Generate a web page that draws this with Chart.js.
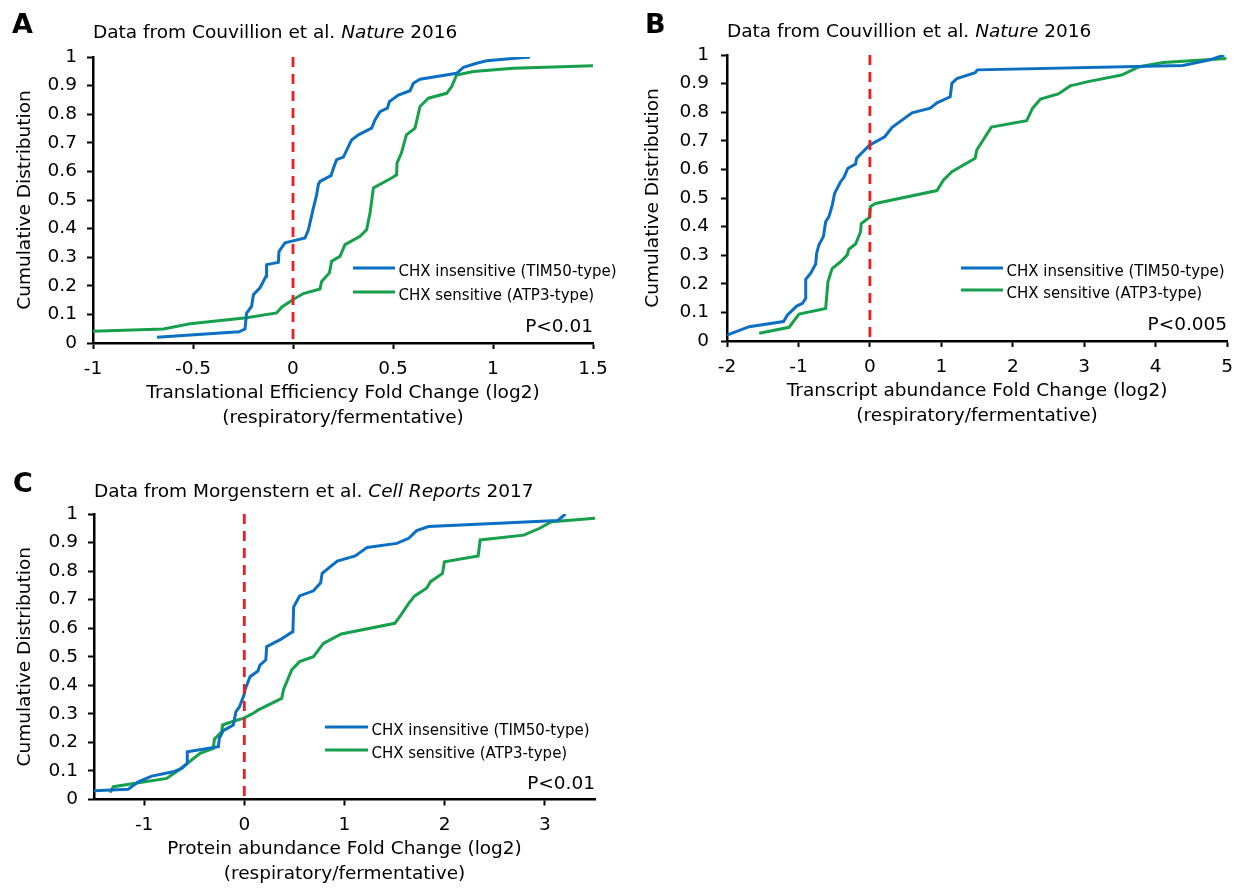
<!DOCTYPE html>
<html>
<head>
<meta charset="utf-8">
<title>CHX sensitivity cumulative distributions</title>
<script src="https://cdn.jsdelivr.net/npm/chart.js@4.4.1/dist/chart.umd.min.js"></script>
<style>
  body { margin: 0; background: #fff; }
  #wrap { position: relative; width: 1242px; height: 888px; overflow: hidden; }
  canvas { position: absolute; }
</style>
</head>
<body>
<div id="wrap">
  <canvas id="chartA" width="621" height="440" style="left:0px;top:0px"></canvas>
  <canvas id="chartB" width="621" height="440" style="left:621px;top:0px"></canvas>
  <canvas id="chartC" width="621" height="448" style="left:0px;top:440px"></canvas>
</div>
<script>
// ---- data ----
const yTicks = [0, 0.1, 0.2, 0.3, 0.4, 0.5, 0.6, 0.7, 0.8, 0.9, 1];
const yTickLabels = ['0', '0.1', '0.2', '0.3', '0.4', '0.5', '0.6', '0.7', '0.8', '0.9', '1'];

const xTicksA = [-1, -0.5, 0, 0.5, 1, 1.5];
const xLabelsA = ['-1', '-0.5', '0', '0.5', '1', '1.5'];
const xTicksB = [-2, -1, 0, 1, 2, 3, 4, 5];
const xLabelsB = ['-2', '-1', '0', '1', '2', '3', '4', '5'];
const xTicksC = [-1, 0, 1, 2, 3];
const xLabelsC = ['-1', '0', '1', '2', '3'];

const seriesNames = ['CHX insensitive (TIM50-type)', 'CHX sensitive (ATP3-type)'];

// A: translational efficiency (x, cumulative fraction)
const blueA = [[-0.68,0.02],[-0.27,0.039],[-0.24,0.049],[-0.232,0.105],[-0.207,0.128],[-0.198,0.169],
  [-0.165,0.193],[-0.135,0.233],[-0.132,0.274],[-0.073,0.282],[-0.07,0.32],[-0.04,0.35],[0.005,0.358],
  [0.06,0.367],[0.077,0.396],[0.098,0.46],[0.118,0.518],[0.127,0.555],[0.135,0.565],[0.19,0.585],
  [0.202,0.611],[0.218,0.641],[0.252,0.65],[0.293,0.71],[0.327,0.728],[0.393,0.751],[0.41,0.78],
  [0.435,0.809],[0.472,0.821],[0.482,0.844],[0.527,0.867],[0.585,0.882],[0.602,0.908],[0.635,0.922],
  [0.818,0.943],[0.852,0.964],[0.918,0.978],[0.968,0.987],[1.185,1.0]];
const greenA = [[-1,0.041],[-0.648,0.049],[-0.515,0.067],[-0.232,0.088],[-0.082,0.105],[-0.057,0.125],
  [0.005,0.154],[0.052,0.173],[0.135,0.189],[0.143,0.215],[0.182,0.245],[0.193,0.286],[0.235,0.303],
  [0.26,0.344],[0.335,0.373],[0.368,0.396],[0.385,0.454],[0.402,0.542],[0.493,0.577],[0.518,0.588],
  [0.52,0.629],[0.542,0.664],[0.567,0.728],[0.61,0.751],[0.635,0.827],[0.677,0.856],[0.768,0.873],
  [0.793,0.896],[0.818,0.937],[0.902,0.949],[1.102,0.961],[1.5,0.969]];

// B: transcript abundance
const blueB = [[-2,0.021],[-1.689,0.05],[-1.209,0.068],[-1.153,0.091],[-1.024,0.122],[-0.944,0.132],
  [-0.898,0.149],[-0.898,0.216],[-0.828,0.237],[-0.759,0.269],[-0.745,0.307],[-0.713,0.336],[-0.651,0.365],
  [-0.619,0.417],[-0.573,0.435],[-0.526,0.476],[-0.494,0.516],[-0.41,0.557],[-0.364,0.572],[-0.308,0.604],
  [-0.2,0.619],[-0.186,0.639],[-0.006,0.685],[0.208,0.714],[0.311,0.747],[0.59,0.798],[0.845,0.814],
  [0.939,0.833],[1.124,0.854],[1.148,0.901],[1.218,0.918],[1.473,0.938],[1.505,0.948],[4.38,0.963],
  [4.76,0.983],[4.96,1.0]];
const greenB = [[-1.549,0.027],[-1.131,0.048],[-0.992,0.094],[-0.619,0.114],[-0.587,0.207],[-0.55,0.237],
  [-0.526,0.254],[-0.41,0.277],[-0.317,0.301],[-0.294,0.321],[-0.2,0.339],[-0.131,0.382],[-0.121,0.411],
  [-0.006,0.432],[0.008,0.47],[0.078,0.481],[0.939,0.526],[1.031,0.563],[1.148,0.592],[1.473,0.639],
  [1.496,0.668],[1.7,0.748],[2.194,0.77],[2.278,0.814],[2.388,0.846],[2.637,0.864],[2.803,0.892],
  [3.053,0.907],[3.523,0.93],[3.771,0.959],[4.105,0.974],[4.99,0.988]];

// C: protein abundance
const blueC = [[-1.5,0.031],[-1.158,0.036],[-1.058,0.062],[-0.924,0.082],[-0.709,0.097],[-0.625,0.109],
  [-0.569,0.127],[-0.569,0.167],[-0.259,0.185],[-0.249,0.214],[-0.21,0.241],[-0.11,0.261],[-0.083,0.308],
  [-0.05,0.323],[-0.003,0.366],[0.009,0.386],[0.057,0.43],[0.136,0.45],[0.156,0.471],[0.215,0.489],
  [0.223,0.535],[0.354,0.559],[0.485,0.588],[0.493,0.675],[0.552,0.713],[0.69,0.731],[0.762,0.759],
  [0.777,0.792],[0.928,0.835],[1.107,0.853],[1.226,0.883],[1.522,0.897],[1.641,0.915],[1.72,0.942],
  [1.839,0.956],[3.126,0.977],[3.206,1.0]];
const greenC = [[-1.34,0.024],[-1.307,0.045],[-0.775,0.074],[-0.642,0.106],[-0.442,0.162],[-0.309,0.179],
  [-0.299,0.211],[-0.226,0.237],[-0.216,0.261],[-0.093,0.276],[-0.01,0.284],[0.09,0.302],[0.136,0.313],
  [0.373,0.354],[0.393,0.386],[0.473,0.454],[0.552,0.483],[0.69,0.5],[0.789,0.547],[0.968,0.58],
  [1.502,0.617],[1.562,0.646],[1.641,0.687],[1.7,0.713],[1.819,0.74],[1.859,0.763],[1.978,0.792],
  [1.997,0.833],[2.334,0.853],[2.354,0.909],[2.789,0.926],[2.948,0.95],[3.067,0.973],[3.502,0.985]];

const refLine = [[0, 1], [0, 0]];

// ---- styling ----
const BLUE = '#0b6fc2';
const GREEN = '#17a04b';
const RED = '#ee1d23';
const INK = '#000';
const FONT = '"DejaVu Sans", sans-serif';

Chart.defaults.font.family = FONT;
Chart.defaults.font.size = 18.5;
Chart.defaults.color = INK;

const toPts = arr => arr.map(p => ({ x: p[0], y: p[1] }));

// letters, titles, legend and p value
const panelText = {
  id: 'panelText',
  afterDraw(chart, args, o) {
    const ctx = chart.ctx, area = chart.chartArea;
    ctx.save();
    ctx.fillStyle = INK;
    ctx.textBaseline = 'alphabetic';
    ctx.textAlign = 'left';
    ctx.font = 'bold 27px ' + FONT;
    ctx.fillText(o.letter, o.letterX, o.letterY);

    let x = area.left;
    o.title.forEach((part, i) => {
      ctx.font = (i === 1 ? 'italic ' : '') + '18.5px ' + FONT;
      ctx.fillText(part, x, o.titleY);
      x += ctx.measureText(part).width;
    });

    const ds = chart.data.datasets;
    [1, 2].forEach((k, i) => {
      const y = o.legendY[i];
      ctx.strokeStyle = ds[k].borderColor;
      ctx.lineWidth = 3;
      ctx.beginPath();
      ctx.moveTo(o.lineX[0], y);
      ctx.lineTo(o.lineX[1], y);
      ctx.stroke();
      ctx.font = '15px ' + FONT;
      ctx.fillText(ds[k].label, o.lineX[1] + 3.5, y + 8);
    });

    ctx.font = '18.5px ' + FONT;
    ctx.textAlign = 'right';
    ctx.fillText(o.pText, area.right, area.bottom - 11);
    ctx.restore();
  }
};

function makePanel(id, p) {
  const axisLine = { display: true, color: '#000', width: 2.5 };
  const marks = { drawOnChartArea: false, drawTicks: true, tickLength: 6, tickWidth: 2, tickColor: '#000' };
  return new Chart(document.getElementById(id), {
    type: 'line',
    data: {
      datasets: [
        { label: 'x = 0', data: toPts(refLine), borderColor: RED, borderWidth: 2.8, borderDash: [10, 7], pointRadius: 0 },
        { label: seriesNames[0], data: toPts(p.blue), borderColor: BLUE, borderWidth: 3, pointRadius: 0 },
        { label: seriesNames[1], data: toPts(p.green), borderColor: GREEN, borderWidth: 3, pointRadius: 0 }
      ]
    },
    options: {
      responsive: false,
      animation: false,
      layout: { padding: p.pad },
      plugins: {
        legend: { display: false },
        tooltip: { enabled: false },
        panelText: p.text
      },
      scales: {
        x: {
          type: 'linear',
          min: p.xmin, max: p.xmax,
          border: axisLine,
          grid: marks,
          afterBuildTicks: axis => { axis.ticks = p.xTicks.map(v => ({ value: v })); },
          afterFit: s => { s.height = 87; },
          ticks: { padding: 9, maxRotation: 0, autoSkip: false, callback: (v, i) => p.xLabels[i] },
          title: {
            display: true,
            text: p.xTitle,
            font: { size: 18.5, lineHeight: 1.33 },
            padding: { top: 0, bottom: 0 }
          }
        },
        y: {
          type: 'linear',
          min: 0, max: 1,
          border: axisLine,
          grid: marks,
          afterBuildTicks: axis => { axis.ticks = yTicks.map(v => ({ value: v })); },
          afterFit: s => { s.width = p.yWidth; },
          ticks: { padding: p.yPad, autoSkip: false, callback: (v, i) => yTickLabels[i] },
          title: {
            display: true,
            text: 'Cumulative Distribution',
            font: { size: 18.5 },
            padding: { top: p.yTitlePad, bottom: 0 }
          }
        }
      }
    },
    plugins: [panelText]
  });
}

makePanel('chartA', {
  blue: blueA, green: greenA,
  xmin: -1, xmax: 1.5, xTicks: xTicksA, xLabels: xLabelsA,
  xTitle: ['Translational Efficiency Fold Change (log2)', '(respiratory/fermentative)'],
  pad: { top: 57, right: 28, bottom: 10, left: 0 },
  yWidth: 93, yPad: 10, yTitlePad: 14,
  text: {
    letter: 'A', letterX: 12, letterY: 33,
    title: ['Data from Couvillion et al. ', 'Nature', ' 2016'], titleY: 38,
    lineX: [353, 395], legendY: [268, 292], pText: 'P<0.01'
  }
});

makePanel('chartB', {
  blue: blueB, green: greenB,
  xmin: -2, xmax: 5, xTicks: xTicksB, xLabels: xLabelsB,
  xTitle: ['Transcript abundance Fold Change (log2)', '(respiratory/fermentative)'],
  pad: { top: 55, right: 14, bottom: 12, left: 0 },
  yWidth: 106, yPad: 12, yTitlePad: 21,
  text: {
    letter: 'B', letterX: 24, letterY: 33,
    title: ['Data from Couvillion et al. ', 'Nature', ' 2016'], titleY: 37,
    lineX: [340, 382], legendY: [268, 290], pText: 'P<0.005'
  }
});

makePanel('chartC', {
  blue: blueC, green: greenC,
  xmin: -1.5, xmax: 3.5, xTicks: xTicksC, xLabels: xLabelsC,
  xTitle: ['Protein abundance Fold Change (log2)', '(respiratory/fermentative)'],
  pad: { top: 74, right: 26, bottom: 1.5, left: 0 },
  yWidth: 94, yPad: 10, yTitlePad: 14,
  text: {
    letter: 'C', letterX: 13, letterY: 52,
    title: ['Data from Morgenstern et al. ', 'Cell Reports', ' 2017'], titleY: 57,
    lineX: [325, 368], legendY: [287, 310], pText: 'P<0.01'
  }
});
</script>
</body>
</html>
